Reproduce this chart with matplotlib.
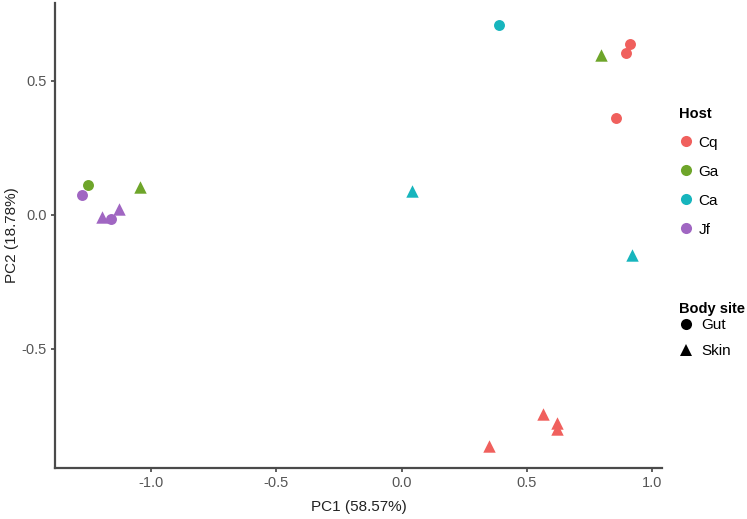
import numpy as np
import matplotlib
matplotlib.use("Agg")
import matplotlib.pyplot as plt
from matplotlib.lines import Line2D

plt.rcParams['font.family'] = ['Liberation Sans', 'DejaVu Sans']

# PCoA scores
hosts = ['Cq', 'Ga', 'Ca', 'Jf']
host_colors = ['#F0605D', '#6EA52A', '#17B5BD', '#A066C2']
sites = ['Gut', 'Skin']
site_markers = ['o', '^']

pc1 = [0.912, 0.896, 0.856, 0.795, 0.388, 0.564, 0.620, 0.620, 0.348,
       0.040, 0.920, -1.252, -1.044, -1.276, -1.160, -1.196, -1.128]
pc2 = [0.638, 0.604, 0.362, 0.597, 0.709, -0.743, -0.776, -0.799, -0.862,
       0.090, -0.149, 0.112, 0.104, 0.075, -0.015, -0.007, 0.022]
host = ['Cq', 'Cq', 'Cq', 'Ga', 'Ca', 'Cq', 'Cq', 'Cq', 'Cq',
        'Ca', 'Ca', 'Ga', 'Ga', 'Jf', 'Jf', 'Jf', 'Jf']
site = ['Gut', 'Gut', 'Gut', 'Skin', 'Gut', 'Skin', 'Skin', 'Skin', 'Skin',
        'Skin', 'Skin', 'Gut', 'Skin', 'Gut', 'Gut', 'Skin', 'Skin']

pc1 = np.array(pc1)
pc2 = np.array(pc2)
host = np.array(host)
site = np.array(site)

fig = plt.figure(figsize=(7.47, 5.19), dpi=100)
ax = fig.add_axes([55 / 747, 1 - 468 / 519, 607 / 747, 465 / 519])

for h, c in zip(hosts, host_colors):
    for s, m in zip(sites, site_markers):
        sel = (host == h) & (site == s)
        if sel.any():
            ax.scatter(pc1[sel], pc2[sel], c=c, marker=m,
                       s=80 if m == '^' else 62, linewidths=0, zorder=3)

ax.set_xlim(-1.384, 1.04)
ax.set_ylim(-0.944, 0.79)
ax.set_xticks([-1.0, -0.5, 0.0, 0.5, 1.0])
ax.set_yticks([-0.5, 0.0, 0.5])
ax.xaxis.set_major_formatter(matplotlib.ticker.FormatStrFormatter('%.1f'))
ax.yaxis.set_major_formatter(matplotlib.ticker.FormatStrFormatter('%.1f'))

for side in ['top', 'right']:
    ax.spines[side].set_visible(False)
for side in ['left', 'bottom']:
    ax.spines[side].set_color('#4a4a4a')
    ax.spines[side].set_linewidth(1.6)
ax.tick_params(colors='#333333', labelcolor='#555555', labelsize=10.5,
               length=3, width=1.1, pad=3)

ax.set_xlabel('PC1 (58.57%)', fontsize=11, color='#222222', labelpad=7)
ax.set_ylabel('PC2 (18.78%)', fontsize=11, color='#222222', labelpad=2)

host_handles = [Line2D([], [], marker='o', ls='', color=c, markersize=8,
                       markeredgewidth=0) for c in host_colors]
site_handles = [Line2D([], [], marker=m, ls='', color='black', markersize=8,
                       markeredgewidth=0) for m in site_markers]

leg1 = fig.legend(host_handles, hosts, title='Host', loc='upper left',
                  bbox_to_anchor=(668 / 747, 1 - 96 / 519), frameon=False,
                  fontsize=11, handletextpad=0.3, labelspacing=0.98,
                  handlelength=1.0, borderpad=0.2, alignment='left')
leg1.get_title().set_fontweight('bold')
leg1.get_title().set_fontsize(10.5)

leg2 = fig.legend(site_handles, sites, title='Body site', loc='upper left',
                  bbox_to_anchor=(668 / 747, 1 - 291 / 519), frameon=False,
                  fontsize=11, handletextpad=0.5, labelspacing=0.75,
                  handlelength=1.0, borderpad=0.2, alignment='left')
leg2.get_title().set_fontweight('bold')
leg2.get_title().set_fontsize(10.5)
leg2._legend_box.sep = 2

fig.savefig('out.png', dpi=100)
